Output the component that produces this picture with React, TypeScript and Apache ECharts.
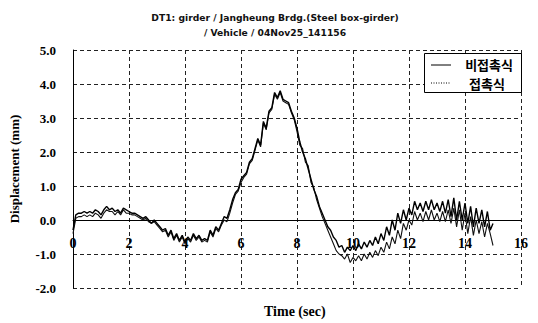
import React, { useEffect, useRef } from "react";
import * as echarts from "echarts";

const TITLE_LINES = ["DT1: girder / Jangheung Brdg.(Steel box-girder)", "/ Vehicle / 04Nov25_141156"];
const SERIES_NAMES = ["비접촉식", "접촉식"];
const TIME_STEP = 0.1;
const Y_TICKS = [-2, -1, 0, 1, 2, 3, 4, 5];
const X_TICKS = [0, 2, 4, 6, 8, 10, 12, 14, 16];

const NONCONTACT = [
  -0.3, 0.15, 0.2, 0.2, 0.25, 0.2, 0.25, 0.2, 0.3, 0.25,
  0.15, 0.3, 0.4, 0.3, 0.35, 0.25, 0.3, 0.2, 0.35, 0.3,
  0.25, 0.2, 0.2, 0.15, 0.1, 0.05, 0.1, 0.0, -0.1, 0.0,
  -0.1, -0.2, -0.3, -0.25, -0.45, -0.3, -0.55, -0.4, -0.6, -0.45,
  -0.65, -0.5, -0.6, -0.4, -0.55, -0.45, -0.6, -0.55, -0.6, -0.3,
  -0.45, -0.2, -0.3, -0.1, 0.1, 0.05, 0.3, 0.6, 0.8, 0.9,
  1.2, 1.3, 1.4, 1.7, 1.8, 2.1, 2.4, 2.2, 2.9, 2.7,
  3.2, 3.3, 3.75, 3.6, 3.8, 3.55, 3.5, 3.45, 3.2, 3.0,
  2.7, 2.3, 2.0, 1.8, 1.5, 1.2, 0.9, 0.7, 0.4, 0.2,
  0.0, -0.2, -0.3, -0.5, -0.6, -0.8, -0.75, -0.95, -0.8, -0.9,
  -0.75, -0.9, -0.7, -0.85, -0.65, -0.8, -0.6, -0.75, -0.5, -0.7,
  -0.4, -0.6, -0.2, -0.45, 0.0, -0.3, 0.2, -0.1, 0.3, 0.0,
  0.35, 0.15, 0.55, 0.3, 0.5, 0.25, 0.55, 0.3, 0.6, 0.3,
  0.5, 0.25, 0.55, 0.2, 0.6, 0.1, 0.65, 0.0, 0.55, 0.0,
  0.5, -0.1, 0.4, -0.2, 0.35, -0.1, 0.3, -0.2, 0.25, -0.3,
  -0.1,
];

const CONTACT = [
  -0.4, 0.05, 0.1, 0.1, 0.15, 0.1, 0.15, 0.1, 0.2, 0.15,
  0.05, 0.2, 0.3, 0.25, 0.25, 0.15, 0.25, 0.15, 0.3, 0.2,
  0.2, 0.15, 0.15, 0.1, 0.05, 0.0, 0.05, -0.05, -0.1, -0.05,
  -0.15, -0.25, -0.35, -0.3, -0.5, -0.35, -0.6, -0.45, -0.65, -0.5,
  -0.7, -0.55, -0.65, -0.45, -0.6, -0.5, -0.65, -0.6, -0.65, -0.35,
  -0.5, -0.25, -0.35, -0.15, 0.0, -0.05, 0.2, 0.5, 0.75, 0.85,
  1.1, 1.25, 1.35, 1.65, 1.75, 2.05, 2.35, 2.15, 2.85, 2.65,
  3.15, 3.25, 3.7, 3.55, 3.75, 3.5, 3.45, 3.4, 3.15, 2.95,
  2.6, 2.2, 2.1, 1.7, 1.6, 1.1, 0.95, 0.6, 0.35, 0.1,
  -0.1, -0.3, -0.5, -0.7, -0.9, -1.0, -1.05, -1.15, -1.0, -1.25,
  -1.1, -1.2, -1.05, -1.2, -1.0, -1.15, -0.95, -1.1, -0.9, -1.05,
  -0.8, -0.95, -0.65, -0.85, -0.5, -0.7, -0.3, -0.55, -0.1, -0.3,
  0.0, -0.15, 0.25, 0.0, 0.2, -0.05, 0.25, 0.0, 0.3, 0.0,
  0.2, -0.05, 0.25, -0.05, 0.3, -0.1, 0.35, -0.2, 0.3, -0.3,
  0.2, -0.4, 0.1, -0.45, 0.0, -0.4, -0.05, -0.5, -0.1, -0.4,
  -0.75,
];

const SERIF = "'Liberation Serif', 'DejaVu Serif', serif";
const SANS = "'DejaVu Sans', 'Liberation Sans', Arial, sans-serif";
const KR = "'Noto Sans CJK KR', 'Noto Sans', sans-serif";

function toPairs(values: number[]) {
  return values.map((v, i) => [Math.round(i * TIME_STEP * 10) / 10, v]);
}

export default function App() {
  const ref = useRef<HTMLDivElement>(null);
  useEffect(() => {
    if (!ref.current) return;
    const chart = echarts.init(ref.current, undefined, { renderer: "svg" });
    const gridLine = { show: true, lineStyle: { color: "#222", type: [4, 3] as any, width: 1 } };
    chart.setOption({
      animation: false,
      backgroundColor: "#fff",
      title: {
        text: TITLE_LINES.join("\n"),
        left: 270,
        textAlign: "center",
        top: 5,
        textStyle: { fontFamily: SANS, fontSize: 9.2, fontWeight: "bold", color: "#111", lineHeight: 15 },
      },
      grid: { left: 73, right: 17, top: 50, bottom: 35, show: false },
      xAxis: {
        type: "value",
        min: X_TICKS[0],
        max: X_TICKS[X_TICKS.length - 1],
        interval: 2,
        position: "bottom",
        offset: -68,
        axisLine: { show: true, onZero: false, lineStyle: { color: "#000", width: 1 } },
        axisTick: { show: false },
        axisLabel: {
          margin: 16,
          fontFamily: SERIF,
          fontSize: 14,
          fontWeight: "bold",
          color: "#000",
          showMinLabel: true,
          showMaxLabel: true,
        },
        splitLine: gridLine,
      },
      yAxis: {
        type: "value",
        min: Y_TICKS[0],
        max: Y_TICKS[Y_TICKS.length - 1],
        interval: 1,
        name: "Displacement (mm)",
        nameLocation: "middle",
        nameGap: 52,
        nameTextStyle: { fontFamily: SERIF, fontSize: 13, fontWeight: "bold", color: "#000" },
        axisLine: { show: true, onZero: false, lineStyle: { color: "#000", width: 1 } },
        axisTick: { show: false },
        axisLabel: {
          margin: 17,
          fontFamily: SERIF,
          fontSize: 13,
          fontWeight: "bold",
          color: "#000",
          formatter: (v: number) => v.toFixed(1),
        },
        splitLine: gridLine,
      },
      series: [
        {
          name: SERIES_NAMES[0],
          type: "line",
          data: toPairs(NONCONTACT),
          showSymbol: false,
          lineStyle: { color: "#000", width: 1.4 },
          z: 3,
        },
        {
          name: SERIES_NAMES[1],
          type: "line",
          data: toPairs(CONTACT),
          showSymbol: false,
          lineStyle: { color: "#111", width: 1.1 },
          z: 2,
        },
      ],
      graphic: [
        {
          type: "text",
          left: 264,
          top: 304,
          style: { text: "Time (sec)", font: `bold 14px ${SERIF}`, fill: "#000" },
        },
        {
          type: "rect",
          shape: { x: 424.5, y: 53.5, width: 97, height: 39 },
          style: { fill: "#fff", stroke: "#000", lineWidth: 1 },
          z: 10,
        },
        {
          type: "line",
          shape: { x1: 431, y1: 65, x2: 451, y2: 65 },
          style: { stroke: "#000", lineWidth: 1 },
          z: 11,
        },
        {
          type: "line",
          shape: { x1: 431, y1: 83, x2: 451, y2: 83 },
          style: { stroke: "#000", lineWidth: 1, lineDash: [1, 1.5] },
          z: 11,
        },
        {
          type: "text",
          x: 513,
          y: 64,
          style: { text: SERIES_NAMES[0], font: `bold 13px ${KR}`, fill: "#000", align: "right", verticalAlign: "middle" },
          z: 11,
        },
        {
          type: "text",
          x: 505,
          y: 83,
          style: { text: SERIES_NAMES[1], font: `bold 13px ${KR}`, fill: "#000", align: "right", verticalAlign: "middle" },
          z: 11,
        },
      ],
    });
    return () => chart.dispose();
  }, []);
  return <div ref={ref} style={{ width: 538, height: 323, position: "absolute", left: 0, top: 0 }} />;
}
